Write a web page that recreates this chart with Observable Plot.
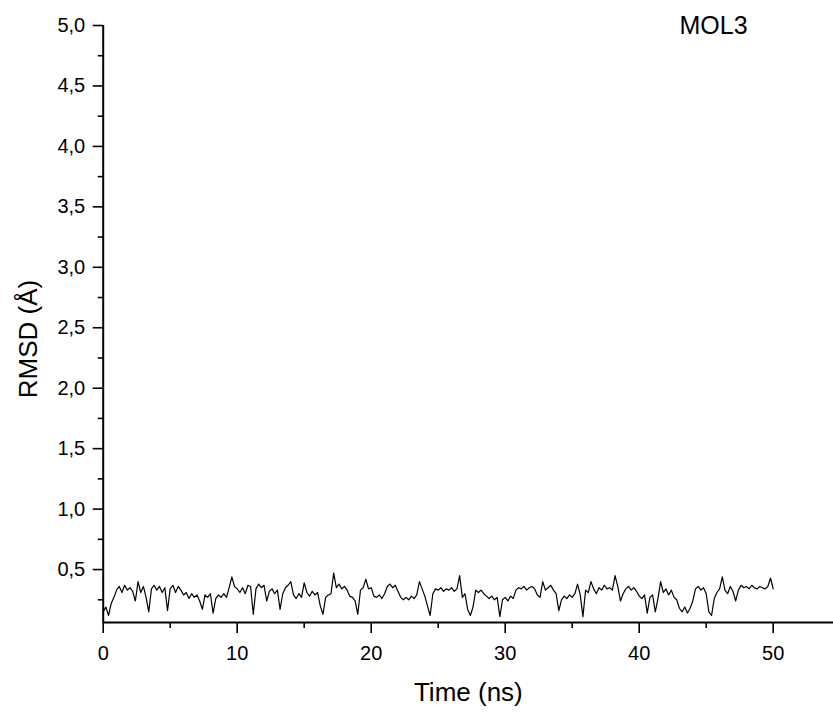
<!DOCTYPE html>
<html><head><meta charset="utf-8">
<script src="https://cdn.jsdelivr.net/npm/d3@7"></script>
<script src="https://cdn.jsdelivr.net/npm/@observablehq/plot@0.6"></script>
<style>body{margin:0;background:#fff} svg{display:block}</style>
</head><body><div id="chart"></div>
<script>
const seriesLabel = "MOL3";
const xTitle = "Time (ns)";
const yTitle = "RMSD (Å)";
const timeStepNs = 0.2;
const rmsd = [
  0.15, 0.19, 0.12, 0.22, 0.27,
  0.33, 0.36, 0.31, 0.37, 0.33,
  0.35, 0.32, 0.24, 0.40, 0.31,
  0.36, 0.27, 0.15, 0.34, 0.37,
  0.33, 0.36, 0.31, 0.35, 0.16,
  0.34, 0.37, 0.31, 0.36, 0.33,
  0.29, 0.31, 0.26, 0.30, 0.27,
  0.29, 0.24, 0.17, 0.29, 0.27,
  0.30, 0.14, 0.26, 0.29, 0.27,
  0.30, 0.27, 0.35, 0.44, 0.36,
  0.34, 0.31, 0.35, 0.30, 0.37,
  0.36, 0.13, 0.34, 0.38, 0.35,
  0.37, 0.24, 0.32, 0.34, 0.30,
  0.33, 0.17, 0.30, 0.35, 0.37,
  0.40, 0.29, 0.26, 0.30, 0.27,
  0.39, 0.31, 0.28, 0.32, 0.29,
  0.31, 0.20, 0.13, 0.27, 0.29,
  0.30, 0.47, 0.35, 0.38, 0.34,
  0.36, 0.33, 0.28, 0.27, 0.24,
  0.13, 0.33, 0.35, 0.42, 0.34,
  0.35, 0.28, 0.27, 0.29, 0.26,
  0.30, 0.36, 0.38, 0.35, 0.37,
  0.32, 0.27, 0.25, 0.27, 0.25,
  0.28, 0.26, 0.29, 0.40, 0.34,
  0.28, 0.20, 0.12, 0.30, 0.34,
  0.33, 0.35, 0.32, 0.34, 0.33,
  0.35, 0.32, 0.34, 0.45, 0.27,
  0.30, 0.17, 0.12, 0.19, 0.33,
  0.31, 0.33, 0.30, 0.28, 0.26,
  0.28, 0.25, 0.27, 0.11, 0.25,
  0.27, 0.24, 0.28, 0.26, 0.33,
  0.35, 0.34, 0.36, 0.33, 0.35,
  0.36, 0.34, 0.29, 0.27, 0.40,
  0.33, 0.35, 0.37, 0.33, 0.30,
  0.16, 0.25, 0.28, 0.26, 0.29,
  0.27, 0.30, 0.38, 0.29, 0.11,
  0.33, 0.31, 0.40, 0.34, 0.30,
  0.35, 0.33, 0.37, 0.34, 0.35,
  0.33, 0.45, 0.36, 0.24, 0.30,
  0.34, 0.36, 0.33, 0.35, 0.32,
  0.28, 0.26, 0.29, 0.14, 0.27,
  0.29, 0.15, 0.26, 0.40, 0.31,
  0.34, 0.29, 0.33, 0.27, 0.25,
  0.18, 0.15, 0.19, 0.14, 0.18,
  0.24, 0.34, 0.36, 0.33, 0.35,
  0.30, 0.15, 0.12, 0.26, 0.31,
  0.34, 0.44, 0.33, 0.30, 0.36,
  0.32, 0.24, 0.33, 0.37, 0.35,
  0.36, 0.34, 0.37, 0.35, 0.34,
  0.36, 0.35, 0.34, 0.36, 0.43,
  0.34
];
const xDomain = [0, 54.5];
const yDomain = [0.062, 5.0];
const xMajorTicks = [0, 10, 20, 30, 40, 50];
const xMinorTicks = [5, 15, 25, 35, 45];
const yMajorTicks = [0.5, 1.0, 1.5, 2.0, 2.5, 3.0, 3.5, 4.0, 4.5, 5.0];
const yMinorTicks = [0.25, 0.75, 1.25, 1.75, 2.25, 2.75, 3.25, 3.75, 4.25, 4.75];

const data = rmsd.map((v, i) => ({time: +(i * timeStepNs).toFixed(2), rmsd: v}));
const fmt = d => d.toFixed(1).replace(".", ",");

const chart = Plot.plot({
  width: 833, height: 713,
  marginLeft: 102.7, marginRight: 0, marginTop: 25, marginBottom: 91,
  style: {fontFamily: "'Liberation Sans', Arial, sans-serif", fontSize: "20px", color: "#000", background: "#fff"},
  x: {domain: xDomain},
  y: {domain: yDomain},
  marks: [
    Plot.axisX(xMinorTicks, {tickSize: 6, strokeWidth: 1.6, fill: "none", label: null}),
    Plot.axisX(xMajorTicks, {tickSize: 11, tickPadding: 12, strokeWidth: 1.6, fontSize: 20, label: null}),
    Plot.axisY(yMinorTicks, {tickSize: 5, strokeWidth: 1.6, fill: "none", label: null}),
    Plot.axisY(yMajorTicks, {tickSize: 10, tickPadding: 8, strokeWidth: 1.6, tickFormat: fmt, fontSize: 20, label: null}),
    Plot.ruleX([xDomain[0]], {strokeWidth: 2}),
    Plot.ruleY([yDomain[0]], {strokeWidth: 2}),
    Plot.line(data, {x: "time", y: "rmsd", stroke: "#000", strokeWidth: 1.2}),
    Plot.text([xTitle], {frameAnchor: "bottom", dy: 70, fontSize: 26, lineAnchor: "middle"}),
    Plot.text([yTitle], {frameAnchor: "left", dx: -75, dy: 15, rotate: -90, fontSize: 26, textAnchor: "middle", lineAnchor: "middle"}),
    Plot.text([seriesLabel], {frameAnchor: "top-right", dx: -120, textAnchor: "middle", lineAnchor: "middle", fontSize: 25})
  ]
});
document.getElementById("chart").appendChild(chart);
</script>
</body></html>
